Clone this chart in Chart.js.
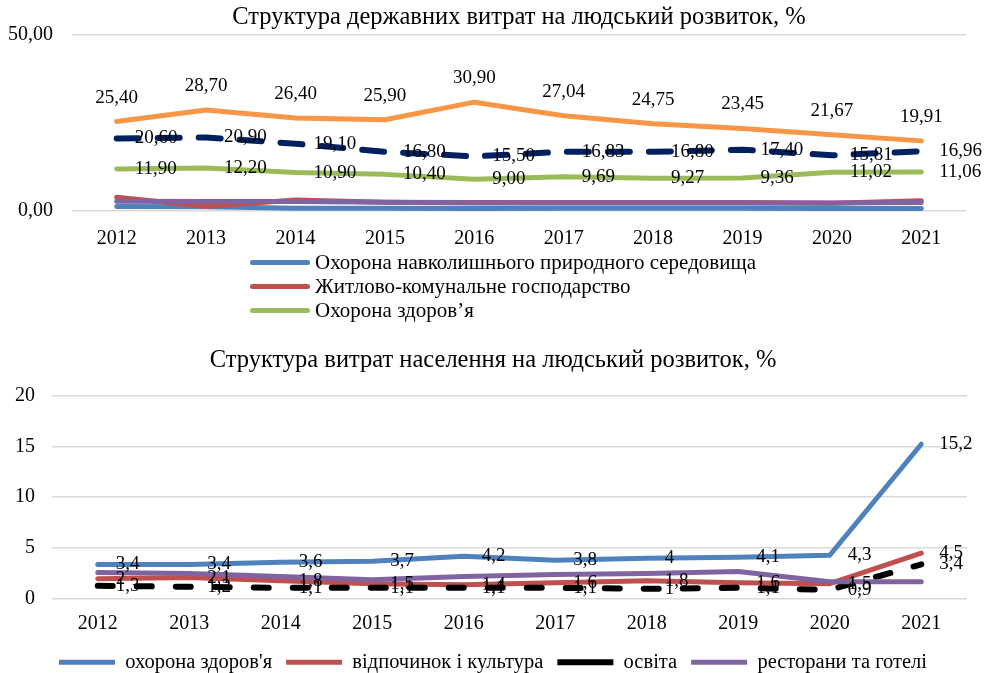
<!DOCTYPE html>
<html>
<head>
<meta charset="utf-8">
<title>Структура витрат на людський розвиток</title>
<script src="https://cdn.jsdelivr.net/npm/chart.js@4"></script>
<style>
  body { margin: 0; background: #fff; overflow: hidden; width: 986px; height: 673px; position: relative; }
  #govChart { position: absolute; left: 0; top: 0; }
  #hhChart { position: absolute; left: 0; top: 330px; }
  .legend { position: absolute; left: 250px; top: 250px; font: 21px "Liberation Serif", serif; color: #000; }
  .legend-item { display: flex; align-items: center; height: 24px; }
  .legend-line { width: 60px; height: 5px; border-radius: 3px; margin-right: 5px; }
</style>
</head>
<body>
  <canvas id="govChart" width="986" height="255"></canvas>
  <div class="legend" id="govLegend"></div>
  <canvas id="hhChart" width="986" height="343"></canvas>

<script>
const years = ['2012', '2013', '2014', '2015', '2016', '2017', '2018', '2019', '2020', '2021'];

// державні витрати, %
const govEnvironment = [1.3, 1.2, 0.8, 0.8, 0.7, 0.8, 0.8, 0.8, 0.7, 0.7];
const govHousing = [3.9, 1.3, 3.1, 2.5, 2.3, 2.3, 2.3, 2.3, 2.2, 2.9];
const govHealth = [11.90, 12.20, 10.90, 10.40, 9.00, 9.69, 9.27, 9.36, 11.02, 11.06];
const govSocial = [25.40, 28.70, 26.40, 25.90, 30.90, 27.04, 24.75, 23.45, 21.67, 19.91];
const govEducation = [20.60, 20.90, 19.10, 16.80, 15.50, 16.83, 16.80, 17.40, 15.81, 16.96];
const govCulture = [2.8, 2.7, 2.7, 2.5, 2.4, 2.4, 2.4, 2.4, 2.3, 2.4];
const govTicks = [0, 50];

// витрати населення, %
const hhHealth = [3.4, 3.4, 3.6, 3.7, 4.2, 3.8, 4, 4.1, 4.3, 15.2];
const hhCulture = [2, 2.1, 1.8, 1.5, 1.4, 1.6, 1.8, 1.6, 1.5, 4.5];
const hhEducation = [1.3, 1.2, 1.1, 1.1, 1.1, 1.1, 1, 1.1, 0.9, 3.4];
const hhHotels = [2.6, 2.5, 2.2, 1.9, 2.2, 2.4, 2.5, 2.7, 1.7, 1.7];
const hhTicks = [0, 5, 10, 15, 20];

const serif = '"Liberation Serif", "Times New Roman", serif';
Chart.defaults.font.family = serif;
Chart.defaults.color = '#000';

const fmt2 = v => v.toFixed(2).replace('.', ',');
const fmt1 = v => String(v).replace('.', ',');

// draws value labels next to the points (no datalabels plugin offline)
const valueLabels = {
  id: 'valueLabels',
  afterDatasetsDraw(chart) {
    const ctx = chart.ctx;
    ctx.save();
    ctx.font = '19px ' + serif;
    ctx.fillStyle = '#000';
    ctx.textBaseline = 'middle';
    chart.data.datasets.forEach((ds, i) => {
      if (!ds.labelPos) return;
      chart.getDatasetMeta(i).data.forEach((pt, j) => {
        const text = ds.fmt(ds.data[j]);
        if (ds.labelPos === 'top') {
          ctx.textAlign = 'center';
          ctx.fillText(text, pt.x, pt.y - 24);
        } else {
          ctx.textAlign = 'left';
          ctx.fillText(text, pt.x + 18, pt.y);
        }
      });
    });
    ctx.restore();
  }
};

function line(label, data, color, extra) {
  return Object.assign({
    label: label,
    data: data,
    borderColor: color,
    backgroundColor: color,
    borderWidth: 5,
    borderCapStyle: 'round',
    borderJoinStyle: 'round',
    pointRadius: 0,
    pointHoverRadius: 0,
    tension: 0
  }, extra || {});
}

const govDatasets = [
  line('Охорона навколишнього природного середовища', govEnvironment, '#4f81bd'),
  line('Житлово-комунальне господарство', govHousing, '#c0504d'),
  line('Охорона здоров’я', govHealth, '#9bbb59', { labelPos: 'right', fmt: fmt2 }),
  line('Соціальний захист та соціальне забезпечення', govSocial, '#f79646', { labelPos: 'top', fmt: fmt2 }),
  line('Освіта', govEducation, '#002060', { borderWidth: 6, borderDash: [22, 19], labelPos: 'right', fmt: fmt2 }),
  line('Духовний та фізичний розвиток', govCulture, '#8064a2')
];
// later series on top, like the original
govDatasets.forEach((d, i) => { d.order = -i; });

new Chart(document.getElementById('govChart'), {
  type: 'line',
  data: { labels: years, datasets: govDatasets },
  options: {
    responsive: false,
    animation: false,
    devicePixelRatio: 1,
    layout: { padding: { left: 0, right: 20, top: 0, bottom: 0 } },
    plugins: {
      legend: { display: false },
      tooltip: { enabled: false },
      title: {
        display: true,
        fullSize: false,
        text: 'Структура державних витрат на людський розвиток, %',
        font: { size: 24.5, weight: 'normal' },
        color: '#000',
        padding: { top: 3, bottom: 2.5 }
      }
    },
    scales: {
      x: {
        offset: true,
        grid: { display: false },
        border: { display: false },
        ticks: { padding: 8, font: { size: 20 } },
        afterFit: s => { s.height = 44; }
      },
      y: {
        min: govTicks[0],
        max: govTicks[govTicks.length - 1],
        afterBuildTicks: s => { s.ticks = govTicks.map(v => ({ value: v })); },
        grid: { color: '#d9d9d9', lineWidth: 1.5, drawTicks: false },
        border: { display: false },
        ticks: { padding: 19, font: { size: 20 }, callback: v => fmt2(v) },
        afterFit: s => { s.width = 72; }
      }
    }
  },
  plugins: [valueLabels]
});

// legend of the upper chart shows only the first three series
const govLegend = document.getElementById('govLegend');
govDatasets.slice(0, 3).forEach(d => {
  const row = document.createElement('div');
  row.className = 'legend-item';
  row.innerHTML = '<span class="legend-line" style="background:' + d.borderColor + '"></span><span>' + d.label + '</span>';
  govLegend.appendChild(row);
});

const hhDatasets = [
  line('охорона здоров\'я', hhHealth, '#4f81bd', { labelPos: 'right', fmt: fmt1 }),
  line('відпочинок і культура', hhCulture, '#c0504d', { labelPos: 'right', fmt: fmt1 }),
  line('освіта', hhEducation, '#000000', { borderWidth: 6, borderDash: [15, 24], labelPos: 'right', fmt: fmt1 }),
  line('ресторани та готелі', hhHotels, '#8064a2')
];
hhDatasets.forEach((d, i) => { d.order = -i; });

new Chart(document.getElementById('hhChart'), {
  type: 'line',
  data: { labels: years, datasets: hhDatasets },
  options: {
    responsive: false,
    animation: false,
    devicePixelRatio: 1,
    layout: { padding: 0 },
    plugins: {
      legend: {
        position: 'bottom',
        reverse: true,
        maxHeight: 35,
        labels: {
          usePointStyle: true,
          pointStyle: 'line',
          pointStyleWidth: 56,
          padding: 14,
          color: '#000',
          font: { size: 20.5 }
        }
      },
      tooltip: { enabled: false },
      title: {
        display: true,
        text: 'Структура витрат населення на людський розвиток, %',
        font: { size: 24.5, weight: 'normal' },
        color: '#000',
        padding: { top: 16, bottom: 20 }
      }
    },
    scales: {
      x: {
        offset: true,
        grid: { display: false },
        border: { display: false },
        ticks: { padding: 5, font: { size: 20 } },
        afterFit: s => { s.height = 39; }
      },
      y: {
        min: hhTicks[0],
        max: hhTicks[hhTicks.length - 1],
        afterBuildTicks: s => { s.ticks = hhTicks.map(v => ({ value: v })); },
        grid: { color: '#d9d9d9', lineWidth: 1.5, drawTicks: false },
        border: { display: false },
        ticks: { padding: 17, font: { size: 20 } },
        afterFit: s => { s.width = 52; }
      },
      // empty right margin, keeps the title centred on the whole width
      yRight: {
        position: 'right',
        grid: { display: false },
        border: { display: false },
        ticks: { display: false },
        afterFit: s => { s.width = 19; }
      }
    }
  },
  plugins: [valueLabels]
});
</script>
</body>
</html>
